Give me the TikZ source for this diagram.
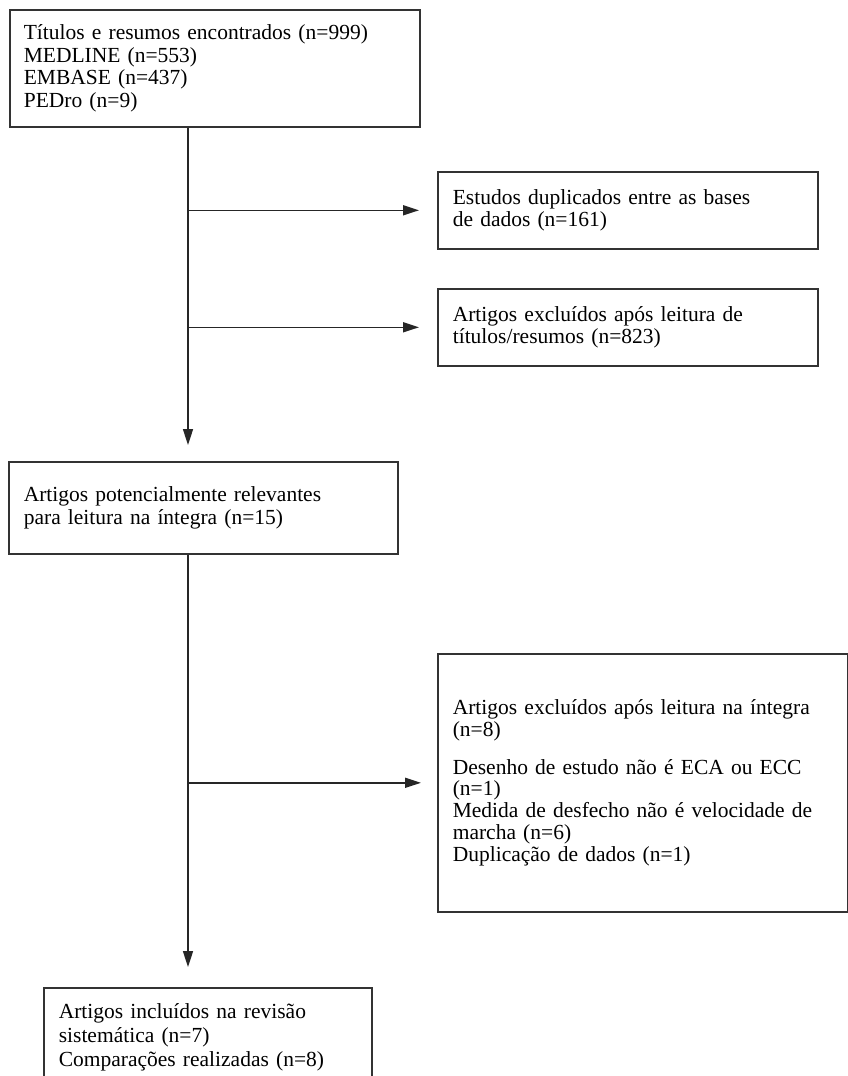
\documentclass[tikz,border=0pt]{standalone}
\usepackage{fontspec}
\setmainfont{Liberation Serif}
\usetikzlibrary{arrows.meta}
\tikzset{
  box/.style={draw=black!80, line width=1.6pt, rectangle, anchor=north west,
    inner xsep=15pt, inner ysep=0pt, align=left,
    font=\fontsize{21.5}{22.5}\selectfont},
  conn/.style={draw=black!85, line width=1.6pt, -{Triangle[length=16pt,width=10pt]}, shorten >=18pt},
  trunk/.style={draw=black!85, line width=1.6pt, -{Triangle[length=16pt,width=10pt]}, shorten >=16pt}
}
\begin{document}
\begin{tikzpicture}[x=1pt,y=-1pt]
\useasboundingbox (0,0) rectangle (848,1076);
\node[box, inner xsep=14pt, text width=382pt, minimum width=410pt, minimum height=117pt] (top) at (9,9)
  {Títulos e resumos encontrados (n=999)\\MEDLINE (n=553)\\EMBASE (n=437)\\PEDro (n=9)};
\node[box, text width=350pt, minimum width=380pt, minimum height=77pt] (dup) at (437,171)
  {Estudos duplicados entre as bases\\de dados (n=161)};
\node[box, text width=350pt, minimum width=380pt, minimum height=77pt] (excla) at (437,288)
  {Artigos excluídos após leitura de\\títulos/resumos (n=823)};
\node[box, text width=359pt, minimum width=389pt, minimum height=92pt] (mid) at (8,461)
  {Artigos potencialmente relevantes\\para leitura na íntegra (n=15)};
\node[box, font=\fontsize{21.5}{21.8}\selectfont, text width=380pt, minimum width=410pt, minimum height=258pt] (exclb) at (437,653)
  {Artigos excluídos após leitura na íntegra\\(n=8)\\[16pt]Desenho de estudo não é ECA ou ECC\\(n=1)\\Medida de desfecho não é velocidade de\\marcha (n=6)\\Duplicação de dados (n=1)};
\node[box, font=\fontsize{21.5}{24}\selectfont, text width=298pt, minimum width=328pt, minimum height=100pt] (incl) at (43,987)
  {Artigos incluídos na revisão\\sistemática (n=7)\\Comparações realizadas (n=8)};
\coordinate (c1) at (188,0);
\draw[trunk] (top.south -| c1) -- (mid.north -| c1);
\draw[conn] (c1 |- dup.west) -- (dup.west);
\draw[conn] (c1 |- excla.west) -- (excla.west);
\draw[trunk, shorten >=20pt] (mid.south -| c1) -- (incl.north -| c1);
\draw[conn, shorten >=16pt] (c1 |- exclb.west) -- (exclb.west);
\end{tikzpicture}
\end{document}
